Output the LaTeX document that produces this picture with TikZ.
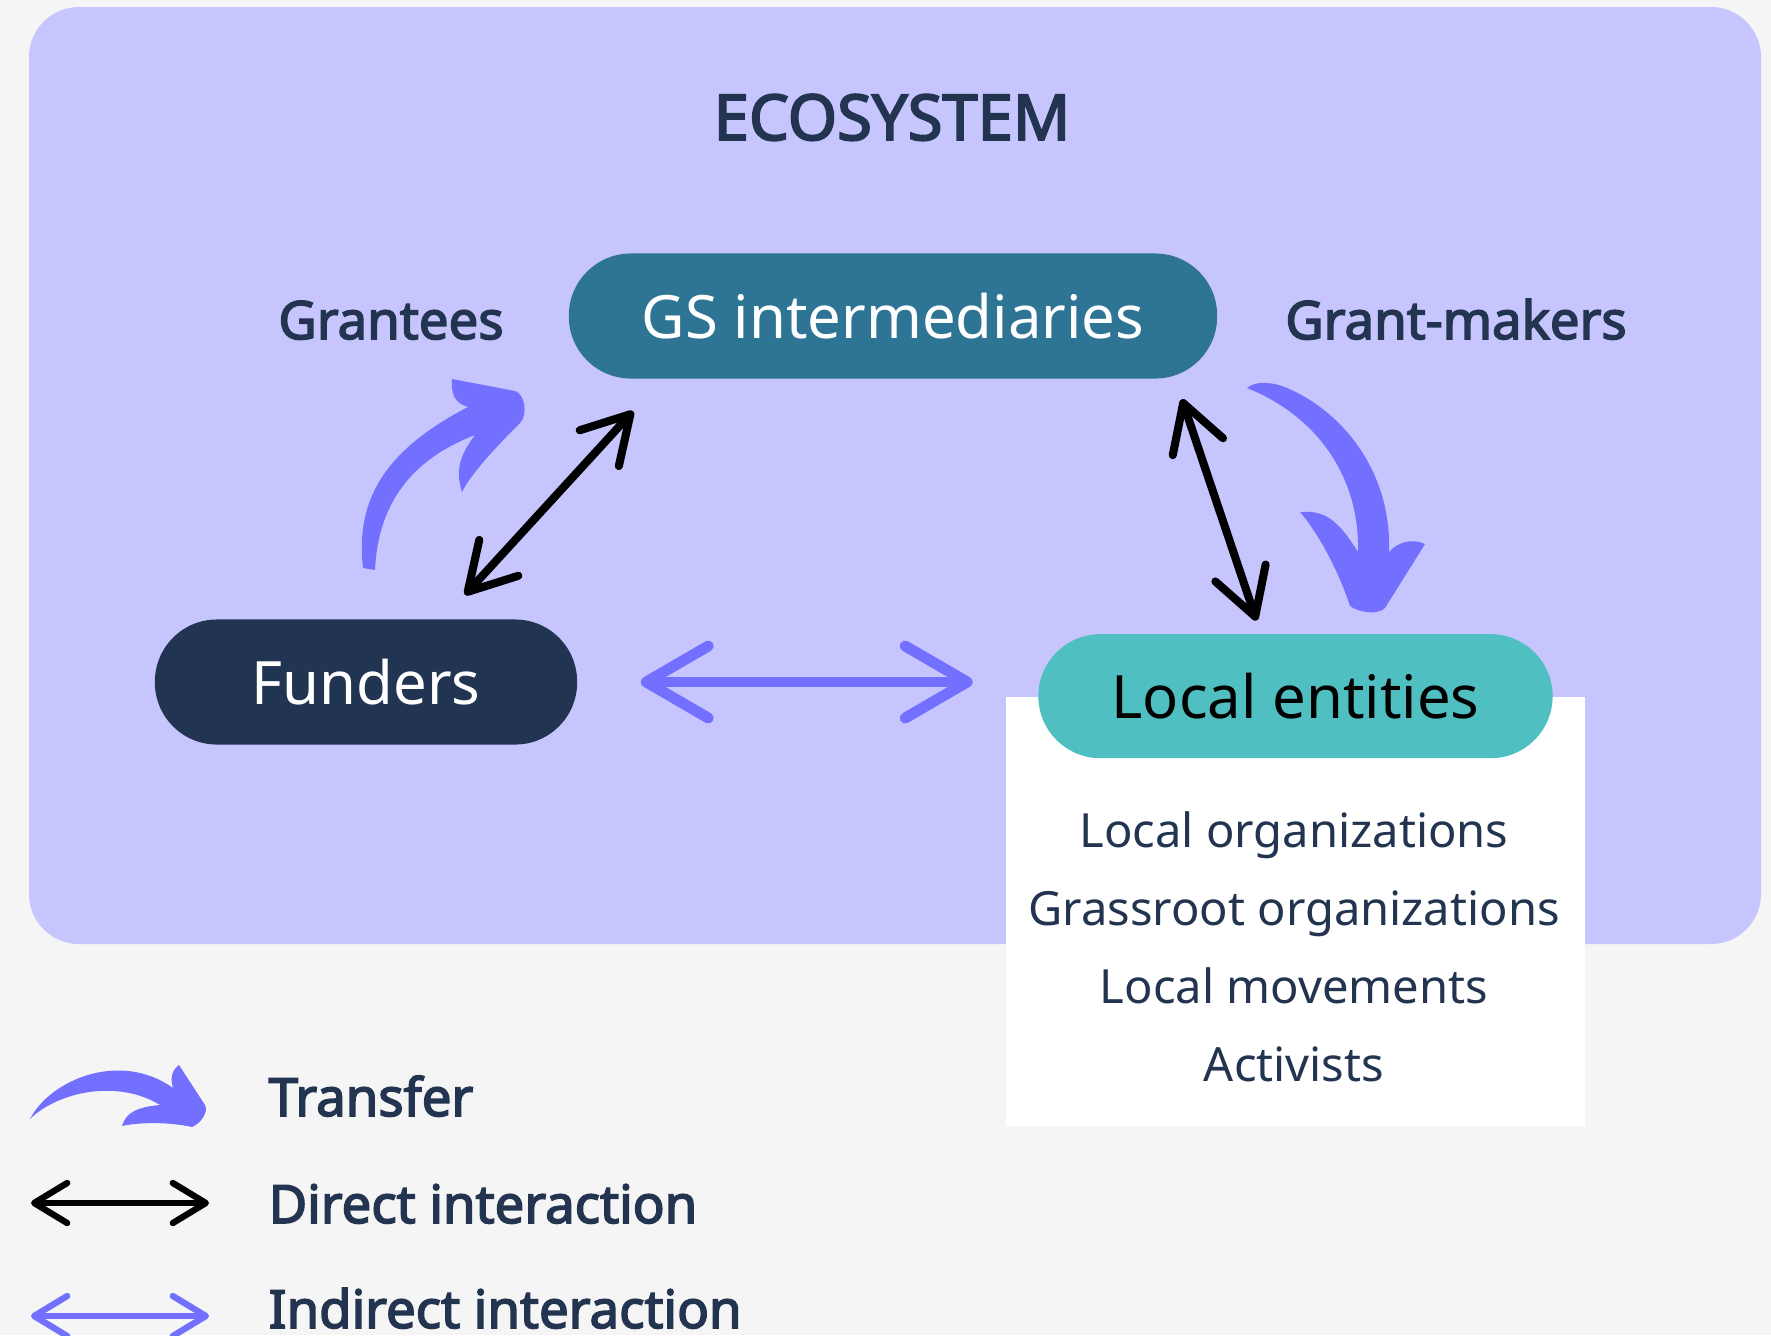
\documentclass[tikz,border=0pt]{standalone}
\usepackage{fontspec}
\setmainfont{Noto Sans}
\newfontfamily\heavysans{Noto Sans}[FakeBold=3]
\usepackage{tikz}
\usetikzlibrary{positioning, calc, arrows.meta}

\definecolor{pagegrey}{HTML}{F5F5F5}
\definecolor{panel}{HTML}{C6C5FE}
\definecolor{transfer}{HTML}{7370FF}
\definecolor{gsblue}{HTML}{2E7494}
\definecolor{navy}{HTML}{213452}
\definecolor{localteal}{HTML}{50BFC1}
\definecolor{ink}{HTML}{22344F}

\begin{document}
\begin{tikzpicture}[x=0.01cm, y=-0.01cm,
    pill/.style={rectangle, rounded corners=0.62cm, minimum height=1.25cm, inner sep=0pt, font=\fontsize{17}{21}\selectfont},
    heading/.style={text=ink, font=\heavysans\fontsize{18}{22}\selectfont, anchor=base, inner sep=0pt},
    side/.style={text=ink, font=\heavysans\fontsize{15}{19}\selectfont, anchor=base, inner sep=0pt},
    entity/.style={text=ink, font=\fontsize{13.4}{16}\selectfont, anchor=base, inner sep=0pt},
    legendtext/.style={text=ink, font=\heavysans\fontsize{15}{19}\selectfont, anchor=base west, inner sep=0pt},
    direct/.style={draw=black, line width=2.3pt, line cap=round, <->,
        >={Straight Barb[length=4.6mm, width=5.3mm, round]}},
    indirect/.style={draw=transfer, line width=3.1pt, line cap=round, <->,
        >={Straight Barb[length=6.2mm, width=7.2mm, round]}},
    small/.style={line width=1.8pt, >={Straight Barb[length=3.3mm, width=4mm, round]}}
]
\useasboundingbox (0,0) rectangle (1771,1335);
\fill[pagegrey] (0,0) rectangle (1771,1335);
\fill[panel, rounded corners=0.5cm] (29,7) rectangle (1761,944);

% labels
\node[heading] (title) at (892,140) {ECOSYSTEM};
\node[side] (grantees) at (391,339) {Grantees};
\node[side] (grantmakers) at (1456,339) {Grant-makers};

% actors
\node[pill, fill=gsblue, text=white, minimum width=6.48cm] (gs) at (893,316) {GS intermediaries};
\node[pill, fill=navy, text=white, minimum width=4.22cm] (funders) at (366,682) {Funders};
\node[fill=white, minimum width=5.79cm, minimum height=4.29cm, inner sep=0pt] (listbox) at (1295.5,911.5) {};
\node[pill, fill=localteal, text=black, minimum width=5.14cm, minimum height=1.24cm] (local) at (listbox.north) {Local entities};

\foreach \entity [count=\i] in {Local organizations, Grassroot organizations, Local movements, Activists}
    \node[entity] (entity\i) at (1294, 769+78*\i) {\entity};

% interactions
\draw[direct] ($(funders.north)+(99,-24)$) -- ($(gs.south west)+(65,32)$);
\draw[direct] ($(gs.south east)+(-36,20)$) -- ($(local.north)+(-39,-13)$);
\draw[indirect] ($(funders.east)+(63,0)$) -- ($(funders.east -| local.west)+(-65,0)$);

% transfers
\fill[transfer] (363,568) .. controls (355,500) and (385,450) .. (468,407)
    .. controls (455,403) and (451,395) .. (452,379) -- (515,391)
    .. controls (525,394) and (528,415) .. (520,423)
    .. controls (495,448) and (470,475) .. (462,492)
    .. controls (455,470) and (460,455) .. (475,435)
    .. controls (410,460) and (378,505) .. (375,570) -- cycle;
\fill[transfer] (1247,388) .. controls (1255,381) and (1270,382) .. (1282,386)
    .. controls (1340,408) and (1392,470) .. (1389,552)
    .. controls (1398,542) and (1412,538) .. (1425,544) -- (1385,608)
    .. controls (1378,615) and (1360,613) .. (1350,606)
    .. controls (1340,575) and (1320,535) .. (1300,512)
    .. controls (1325,510) and (1338,520) .. (1358,552)
    .. controls (1360,475) and (1315,415) .. (1247,388) -- cycle;

% legend
\fill[transfer] (30,1119) .. controls (50,1080) and (120,1050) .. (173,1088)
    .. controls (170,1078) and (172,1070) .. (179,1065) -- (205,1105)
    .. controls (209,1112) and (200,1124) .. (192,1127)
    .. controls (170,1122) and (140,1122) .. (122,1126)
    .. controls (126,1112) and (138,1107) .. (160,1105)
    .. controls (120,1080) and (60,1090) .. (30,1119) -- cycle;
\draw[direct, small] (31,1203) -- (209,1203);
\draw[indirect, small] (31,1316) -- (209,1316);
\node[legendtext] (ltransfer) at (268,1116) {Transfer};
\node[legendtext] (ldirect) at (268,1223) {Direct interaction};
\node[legendtext] (lindirect) at (268,1328) {Indirect interaction};
\end{tikzpicture}
\end{document}
